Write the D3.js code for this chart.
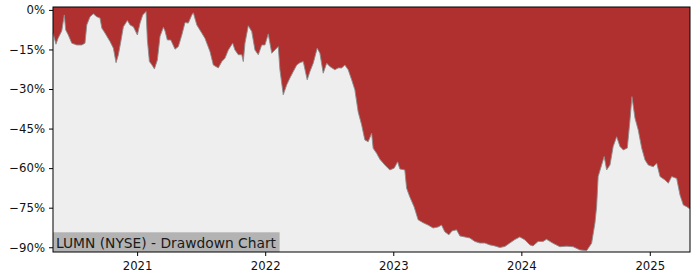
<!DOCTYPE html>
<html>
<head>
<meta charset="utf-8">
<script src="https://cdn.jsdelivr.net/npm/d3@7"></script>
<style>
  html, body { margin: 0; padding: 0; background: #fff; }
  svg { display: block; font-family: "DejaVu Sans", sans-serif; }
</style>
</head>
<body>
<svg id="chart" width="700" height="280"></svg>
<script>
// Decimal-year dates
const years = [
  2020.345, 2020.368, 2020.384, 2020.413, 2020.433, 2020.444, 2020.464, 2020.491, 2020.530, 2020.569,
  2020.594, 2020.608, 2020.633, 2020.659, 2020.686, 2020.711, 2020.725, 2020.750, 2020.789, 2020.815,
  2020.836, 2020.854, 2020.873, 2020.893, 2020.924, 2020.945, 2020.971, 2021.002, 2021.023, 2021.044,
  2021.070, 2021.080, 2021.096, 2021.115, 2021.135, 2021.158, 2021.179, 2021.205, 2021.218, 2021.236,
  2021.263, 2021.296, 2021.322, 2021.349, 2021.374, 2021.400, 2021.427, 2021.439, 2021.466, 2021.505,
  2021.530, 2021.569, 2021.595, 2021.634, 2021.661, 2021.686, 2021.712, 2021.746, 2021.764, 2021.790,
  2021.817, 2021.829, 2021.842, 2021.868, 2021.895, 2021.920, 2021.946, 2021.973, 2021.998, 2022.024,
  2022.051, 2022.076, 2022.102, 2022.115, 2022.141, 2022.168, 2022.193, 2022.219, 2022.246, 2022.271,
  2022.297, 2022.328, 2022.349, 2022.375, 2022.406, 2022.427, 2022.453, 2022.480, 2022.505, 2022.544,
  2022.570, 2022.597, 2022.622, 2022.648, 2022.675, 2022.700, 2022.726, 2022.753, 2022.778, 2022.804,
  2022.831, 2022.843, 2022.870, 2022.895, 2022.934, 2022.973, 2023.007, 2023.034, 2023.051, 2023.090,
  2023.104, 2023.129, 2023.163, 2023.194, 2023.233, 2023.272, 2023.311, 2023.350, 2023.377, 2023.402,
  2023.434, 2023.459, 2023.494, 2023.520, 2023.559, 2023.598, 2023.637, 2023.676, 2023.715, 2023.754,
  2023.793, 2023.832, 2023.871, 2023.910, 2023.949, 2023.988, 2024.027, 2024.066, 2024.091, 2024.130,
  2024.169, 2024.196, 2024.247, 2024.300, 2024.352, 2024.403, 2024.456, 2024.508, 2024.547, 2024.573,
  2024.586, 2024.598, 2024.625, 2024.645, 2024.664, 2024.690, 2024.715, 2024.742, 2024.768, 2024.794,
  2024.825, 2024.846, 2024.861, 2024.885, 2024.910, 2024.937, 2024.963, 2024.988, 2025.027, 2025.054,
  2025.080, 2025.119, 2025.145, 2025.171, 2025.210, 2025.236, 2025.262, 2025.288, 2025.314
];
// Drawdown in percent
const drawdown = [
  -8.7, -13.0, -10.8, -8.0, -1.9, -7.6, -9.5, -12.6, -13.3, -13.3,
  -12.6, -5.7, -2.6, -1.5, -2.6, -3.1, -6.9, -8.8, -12.0, -14.5,
  -20.0, -17.0, -12.0, -6.4, -4.0, -5.7, -6.4, -9.5, -5.0, -1.9,
  -0.6, -11.4, -19.6, -20.8, -22.4, -19.0, -10.0, -6.6, -8.0, -11.4,
  -11.4, -14.9, -13.9, -9.5, -4.8, -5.0, -1.9, -1.1, -5.7, -8.8,
  -10.8, -15.8, -20.9, -22.0, -19.6, -18.3, -15.2, -12.6, -15.2, -17.0,
  -17.0, -19.6, -12.6, -6.0, -8.2, -15.2, -17.0, -13.3, -13.3, -9.1,
  -16.4, -15.2, -13.9, -22.7, -32.2, -28.4, -25.8, -23.4, -20.9, -20.0,
  -19.6, -26.5, -23.4, -20.2, -14.5, -16.4, -24.0, -20.2, -21.5, -22.7,
  -22.0, -22.0, -20.9, -22.7, -26.5, -30.3, -38.7, -43.6, -49.3, -50.0,
  -46.8, -52.5, -54.4, -56.6, -58.8, -60.7, -60.0, -57.6, -60.3, -60.7,
  -67.6, -70.9, -74.7, -79.6, -80.7, -81.6, -82.7, -82.3, -81.6, -84.1,
  -85.3, -83.8, -83.4, -85.7, -86.1, -86.5, -87.8, -88.4, -88.4, -89.1,
  -89.5, -90.1, -89.7, -88.4, -87.1, -86.1, -87.2, -89.1, -89.5, -87.8,
  -87.8, -87.0, -88.5, -89.8, -89.6, -89.8, -91.0, -91.3, -88.5, -80.8,
  -74.6, -63.2, -58.8, -55.6, -60.7, -58.8, -51.8, -48.1, -51.8, -53.1,
  -52.4, -41.7, -32.9, -41.1, -45.5, -52.4, -56.9, -58.8, -59.5, -58.1,
  -63.2, -64.5, -65.7, -63.2, -63.9, -70.2, -74.0, -74.6, -75.5
];
const yTicks = [0, -15, -30, -45, -60, -75, -90];
const xTickYears = [2021, 2022, 2023, 2024, 2025];
const titleText = "LUMN (NYSE) - Drawdown Chart";

function toDate(t) {
  const y = Math.floor(t);
  const a = new Date(y, 0, 1), b = new Date(y + 1, 0, 1);
  return new Date(+a + (t - y) * (b - a));
}

const data = years.map((t, i) => ({ date: toDate(t), v: drawdown[i] }));

const L = 53, R = 690, T = 7, B = 252;
const svg = d3.select("#chart");

const x = d3.scaleTime().domain(d3.extent(data, d => d.date)).range([L, R]);
const y = d3.scaleLinear().domain([-91.8, 1.1]).range([B, T]);

// plot background
svg.append("rect").attr("x", L).attr("y", T).attr("width", R - L).attr("height", B - T)
  .attr("fill", "#eeeeee");

// drawdown area (from top of axes to curve)
const area = d3.area().x(d => x(d.date)).y0(T).y1(d => y(d.v));
svg.append("path").datum(data).attr("d", area).attr("fill", "#b03030");

// edge line
const line = d3.line().x(d => x(d.date)).y(d => y(d.v));
svg.append("path").datum(data).attr("d", line).attr("fill", "none")
  .attr("stroke", "#8c8c8c").attr("stroke-width", 0.9);

// title box
const g = svg.append("g");
const txt = g.append("text").attr("x", 56).attr("y", 247.7)
  .attr("font-size", "13.8px").attr("fill", "#1a1a1a").text(titleText);
const bb = txt.node().getBBox();
g.insert("rect", "text").attr("x", L).attr("y", 232.3)
  .attr("width", Math.max(bb.x + bb.width + 3, 279.3) - L).attr("height", B - 232.3)
  .attr("fill", "#b3b3b3");

// axes
const xAxis = d3.axisBottom(x)
  .tickValues(xTickYears.map(yy => new Date(yy, 0, 1)))
  .tickFormat(d3.timeFormat("%Y"))
  .tickSizeInner(4).tickSizeOuter(0).tickPadding(6);
const gx = svg.append("g").attr("transform", `translate(0,${B})`).call(xAxis);
gx.select(".domain").remove();
gx.selectAll("text").attr("font-size", "11.7px").attr("fill", "#111").attr("font-family", "DejaVu Sans");
gx.selectAll("line").attr("stroke", "#000");

const yAxis = d3.axisLeft(y).tickValues(yTicks)
  .tickFormat(d => (d < 0 ? "\u2212" + Math.abs(d) : d) + "%")
  .tickSizeInner(4).tickSizeOuter(0).tickPadding(4);
const gy = svg.append("g").attr("transform", `translate(${L},0)`).call(yAxis);
gy.select(".domain").remove();
gy.selectAll("text").attr("font-size", "11.7px").attr("fill", "#111").attr("font-family", "DejaVu Sans");
gy.selectAll("line").attr("stroke", "#000");

// frame
svg.append("rect").attr("x", L).attr("y", T).attr("width", R - L).attr("height", B - T)
  .attr("fill", "none").attr("stroke", "#000").attr("stroke-width", 1);
</script>
</body>
</html>
